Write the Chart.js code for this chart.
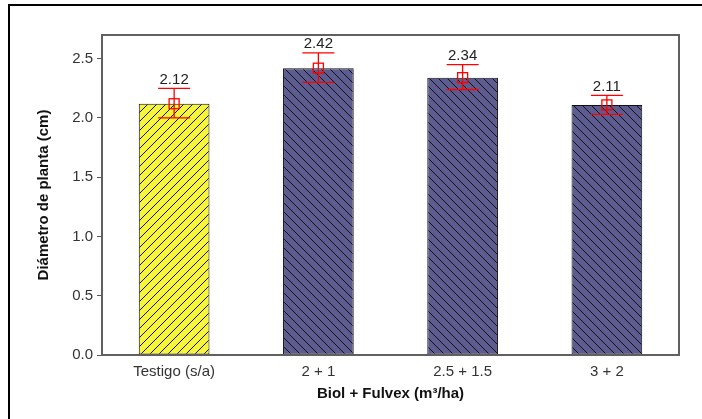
<!DOCTYPE html>
<html>
<head>
<meta charset="utf-8">
<script src="https://cdn.jsdelivr.net/npm/chart.js@4"></script>
<style>
  body { margin: 0; background: #fff; }
  #wrap { width: 702px; height: 419px; position: relative; }
</style>
</head>
<body>
<div id="wrap"><canvas id="chart" width="702" height="419"></canvas></div>
<script>
// data
let categories = ["Testigo (s/a)", "2 + 1", "2.5 + 1.5", "3 + 2"];
let means = [2.12, 2.42, 2.34, 2.11];
let errUpper = [2.25, 2.55, 2.45, 2.19];
let errLower = [2.00, 2.30, 2.24, 2.03];
let yTicks = [0, 0.5, 1.0, 1.5, 2.0, 2.5];

// hatch patterns for the bars
function makeHatch(bg, dir) {
  let s = 9;
  let c = document.createElement("canvas");
  c.width = s;
  c.height = s;
  let g = c.getContext("2d");
  g.fillStyle = bg;
  g.fillRect(0, 0, s, s);
  g.strokeStyle = "#111";
  g.lineWidth = 1;
  g.beginPath();
  if (dir == "/") {
    g.moveTo(-2, s + 2); g.lineTo(s + 2, -2);
    g.moveTo(-2, 2); g.lineTo(2, -2);
    g.moveTo(s - 2, s + 2); g.lineTo(s + 2, s - 2);
  } else {
    g.moveTo(-2, -2); g.lineTo(s + 2, s + 2);
    g.moveTo(s - 2, -2); g.lineTo(s + 2, 2);
    g.moveTo(-2, s - 2); g.lineTo(2, s + 2);
  }
  g.stroke();
  return g.createPattern(c, "repeat");
}

let ctx = document.getElementById("chart").getContext("2d");
let yellowHatch = makeHatch("#f6f53c", "/");
let blueHatch = makeHatch("#5c5c90", "\\");

// outer frame + plot border
let framePlugin = {
  id: "frame",
  afterDraw(chart) {
    let c = chart.ctx;
    let a = chart.chartArea;
    c.save();
    c.strokeStyle = "#000";
    c.lineWidth = 2;
    c.beginPath();
    c.moveTo(9, 419);
    c.lineTo(9, 5);
    c.lineTo(702, 5);
    c.stroke();
    c.strokeStyle = "#606060";
    c.lineWidth = 2;
    c.strokeRect(a.left, a.top, a.right - a.left, a.bottom - a.top);
    c.restore();
  }
};

// error bars, mean markers and value labels
let errorPlugin = {
  id: "errors",
  afterDatasetsDraw(chart) {
    let c = chart.ctx;
    let xs = chart.scales.x;
    let ys = chart.scales.y;
    c.save();
    c.strokeStyle = "#ff0000";
    c.lineWidth = 1.3;
    for (let i = 0; i < means.length; i++) {
      let x = xs.getPixelForValue(i);
      let yT = ys.getPixelForValue(errUpper[i]);
      let yB = ys.getPixelForValue(errLower[i]);
      let yM = ys.getPixelForValue(means[i]);
      c.beginPath();
      c.moveTo(x, yT); c.lineTo(x, yB);
      c.moveTo(x - 16, yT); c.lineTo(x + 16, yT);
      c.moveTo(x - 16, yB); c.lineTo(x + 16, yB);
      c.stroke();
      c.strokeRect(x - 5, yM - 5, 10, 10);
      c.fillStyle = "#222";
      c.font = "15px 'Liberation Sans', Arial, sans-serif";
      c.textAlign = "center";
      c.textBaseline = "bottom";
      c.fillText(means[i].toFixed(2), x, yT - 1);
    }
    c.restore();
  }
};

new Chart(ctx, {
  type: "bar",
  data: {
    labels: categories,
    datasets: [
      {
        data: means,
        backgroundColor: [yellowHatch, blueHatch, blueHatch, blueHatch],
        borderColor: "#111",
        borderWidth: 1,
        borderSkipped: false,
        barPercentage: 0.49,
        categoryPercentage: 1.0,
      },
    ],
  },
  options: {
    responsive: false,
    animation: false,
    layout: { padding: { top: 35, right: 23, left: 31, bottom: 0 } },
    plugins: {
      legend: { display: false },
      tooltip: { enabled: false },
    },
    scales: {
      x: {
        grid: { display: false, drawTicks: false },
        border: { display: false },
        ticks: {
          color: "#333",
          padding: 8,
          font: { family: "'Liberation Sans', Arial, sans-serif", size: 15 },
        },
        title: {
          display: true,
          text: "Biol + Fulvex (m\u00b3/ha)",
          color: "#111",
          padding: { top: 2, bottom: 16 },
          font: { family: "'Liberation Sans', Arial, sans-serif", size: 15, weight: "bold" },
        },
        afterFit(scale) { scale.height = 64; },
      },
      y: {
        min: 0,
        max: 2.7,
        afterBuildTicks(scale) {
          scale.ticks = yTicks.map((v) => ({ value: v }));
        },
        grid: { drawOnChartArea: false, tickLength: 5, color: "#555", lineWidth: 1 },
        border: { display: false },
        ticks: {
          color: "#333",
          padding: 4,
          callback: (v) => Number(v).toFixed(1),
          font: { family: "'Liberation Sans', Arial, sans-serif", size: 15 },
        },
        title: {
          display: true,
          text: "Diámetro de planta (cm)",
          color: "#111",
          padding: { bottom: 10 },
          font: { family: "'Liberation Sans', Arial, sans-serif", size: 15, weight: "bold" },
        },
        afterFit(scale) { scale.width = 71; },
      },
    },
  },
  plugins: [framePlugin, errorPlugin],
});
</script>
</body>
</html>
